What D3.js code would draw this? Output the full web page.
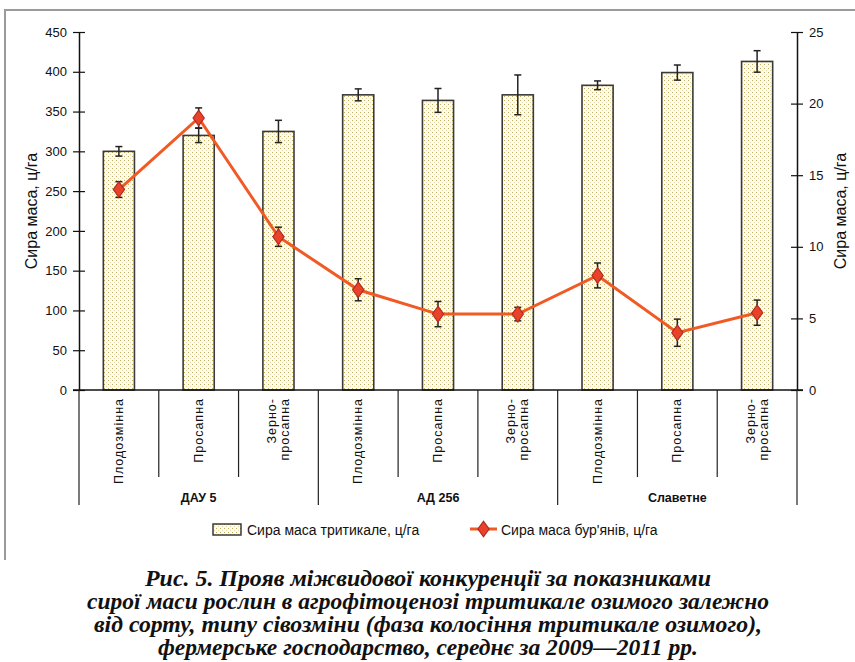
<!DOCTYPE html>
<html>
<head>
<meta charset="utf-8">
<script src="https://cdn.jsdelivr.net/npm/d3@7"></script>
<style>
  body { margin: 0; background: #fff; }
  svg { display: block; }
</style>
</head>
<body>
<div id="chart"></div>
<script>
// Дані
const groups = ['ДАУ 5', 'АД 256', 'Славетне'];
const rotations = [['Плодозмінна'], ['Просапна'], ['Зерно-', 'просапна']];
const triticale = [300, 320, 325, 371, 364, 371, 383, 399, 413];
const triticaleErr = [6, 9, 14, 7.5, 15, 25, 5.5, 9.5, 13.5];
const weeds = [14.0, 19.0, 10.7, 7.0, 5.3, 5.3, 8.0, 4.0, 5.4];
const weedsErr = [0.55, 0.7, 0.67, 0.77, 0.88, 0.47, 0.87, 0.95, 0.88];
const leftTicks = [0, 50, 100, 150, 200, 250, 300, 350, 400, 450];
const rightTicks = [0, 5, 10, 15, 20, 25];
const captionLines = [
  'Рис. 5. Прояв міжвидової конкуренції за показниками',
  'сирої маси рослин в агрофітоценозі тритикале озимого залежно',
  'від сорту, типу сівозміни (фаза колосіння тритикале озимого),',
  'фермерське господарство, середнє за 2009—2011 рр.'
];

const W = 855, H = 662;
const plot = { left: 79, right: 797, top: 32, bottom: 390 };

const svg = d3.select('#chart').append('svg')
  .attr('width', W)
  .attr('height', H);

// візерунок для стовпчиків
const defs = svg.append('defs');
const pat = defs.append('pattern')
  .attr('id', 'dots')
  .attr('patternUnits', 'userSpaceOnUse')
  .attr('width', 4)
  .attr('height', 4);
pat.append('rect').attr('width', 4).attr('height', 4).attr('fill', '#fdfbf2');
pat.append('rect').attr('x', 0).attr('y', 0).attr('width', 1).attr('height', 1).attr('fill', '#c2ad5c');
pat.append('rect').attr('x', 2).attr('y', 2).attr('width', 1).attr('height', 1).attr('fill', '#e3d9a6');

// рамка (верх і лівий край)
svg.append('path')
  .attr('d', 'M5,560V10H860')
  .attr('fill', 'none')
  .attr('stroke', '#9a9a9a')
  .attr('stroke-width', 2);

const cats = d3.range(triticale.length);
const x = d3.scaleBand()
  .domain(cats)
  .range([plot.left, plot.right]);

const yL = d3.scaleLinear().domain([0, 450]).range([plot.bottom, plot.top]);
const yR = d3.scaleLinear().domain([0, 25]).range([plot.bottom, plot.top]);

const barW = x.bandwidth() * 0.39;
const cx = i => x(i) + x.bandwidth() / 2;

// стовпчики
svg.append('g').selectAll('rect')
  .data(triticale)
  .enter()
  .append('rect')
  .attr('x', (d, i) => cx(i) - barW / 2)
  .attr('y', d => yL(d))
  .attr('width', barW)
  .attr('height', d => yL(0) - yL(d))
  .attr('fill', 'url(#dots)')
  .attr('stroke', '#3a3a3a')
  .attr('stroke-width', 1.6);

// похибки
function errorBars(values, errs, scale) {
  const g = svg.append('g').attr('stroke', '#222').attr('stroke-width', 1.5);
  values.forEach((v, i) => {
    const x0 = cx(i);
    const y1 = scale(v + errs[i]), y2 = scale(v - errs[i]);
    g.append('line').attr('x1', x0).attr('x2', x0).attr('y1', y1).attr('y2', y2);
    g.append('line').attr('x1', x0 - 3.5).attr('x2', x0 + 3.5).attr('y1', y1).attr('y2', y1);
    g.append('line').attr('x1', x0 - 3.5).attr('x2', x0 + 3.5).attr('y1', y2).attr('y2', y2);
  });
}
errorBars(triticale, triticaleErr, yL);

// лінія бур'янів
const line = d3.line()
  .x((d, i) => cx(i))
  .y(d => yR(d));

svg.append('path')
  .datum(weeds)
  .attr('d', line)
  .attr('fill', 'none')
  .attr('stroke', '#f15a24')
  .attr('stroke-width', 3);

errorBars(weeds, weedsErr, yR);

const diamond = d3.symbol().type(d3.symbolDiamond).size(70);
svg.append('g').selectAll('path')
  .data(weeds)
  .enter()
  .append('path')
  .attr('d', diamond)
  .attr('transform', (d, i) => `translate(${cx(i)},${yR(d)}) scale(1.25,1)`)
  .attr('fill', '#e8432a')
  .attr('stroke', '#b52a1f')
  .attr('stroke-width', 1);

// осі
const tickFont = 'Liberation Sans, Arial, sans-serif';
const axL = svg.append('g')
  .attr('transform', `translate(${plot.left},0)`)
  .call(d3.axisLeft(yL).tickValues(leftTicks).tickSize(0).tickPadding(12));
axL.select('.domain').attr('stroke', '#111').attr('stroke-width', 1.5);
axL.selectAll('.tick text').attr('font-family', tickFont).attr('font-size', 13).attr('fill', '#111');
axL.selectAll('.tick').append('line')
  .attr('x1', -6).attr('x2', 6).attr('stroke', '#111').attr('stroke-width', 1.2);

const axR = svg.append('g')
  .attr('transform', `translate(${plot.right},0)`)
  .call(d3.axisRight(yR).tickValues(rightTicks).tickSize(0).tickPadding(12));
axR.select('.domain').attr('stroke', '#111').attr('stroke-width', 1.5);
axR.selectAll('.tick text').attr('font-family', tickFont).attr('font-size', 13).attr('fill', '#111');
axR.selectAll('.tick').append('line')
  .attr('x1', -6).attr('x2', 6).attr('stroke', '#111').attr('stroke-width', 1.2);

// вісь X
svg.append('line')
  .attr('x1', plot.left - 6).attr('x2', plot.right + 6)
  .attr('y1', plot.bottom).attr('y2', plot.bottom)
  .attr('stroke', '#111').attr('stroke-width', 1.5);

const sep = svg.append('g').attr('stroke', '#222').attr('stroke-width', 1.2);
d3.range(triticale.length + 1).forEach(k => {
  const xx = k < triticale.length ? x(k) : plot.right;
  const isGroup = k % 3 === 0;
  sep.append('line')
    .attr('x1', xx).attr('x2', xx)
    .attr('y1', plot.bottom).attr('y2', isGroup ? 505 : 477);
});

// підписи категорій
cats.forEach(i => {
  const lines = rotations[i % 3];
  const t = svg.append('text')
    .attr('transform', `translate(${cx(i)},398) rotate(-90)`)
    .attr('text-anchor', 'end')
    .attr('font-family', tickFont)
    .attr('font-size', 12.5)
    .attr('letter-spacing', 1)
    .attr('fill', '#111');
  lines.forEach((s, j) => {
    t.append('tspan')
      .attr('x', 0)
      .attr('y', (j - (lines.length - 1) / 2) * 13 + 4)
      .text(s);
  });
});

groups.forEach((g, k) => {
  svg.append('text')
    .attr('x', (x(k * 3) + (k < 2 ? x(k * 3 + 3) : plot.right)) / 2)
    .attr('y', 502)
    .attr('text-anchor', 'middle')
    .attr('font-family', tickFont)
    .attr('font-weight', 'bold')
    .attr('font-size', 12.5)
    .attr('fill', '#111')
    .text(g);
});

// назви осей
svg.append('text')
  .attr('transform', `translate(37,${(plot.top + plot.bottom) / 2}) rotate(-90)`)
  .attr('text-anchor', 'middle')
  .attr('font-family', tickFont)
  .attr('font-size', 16)
  .attr('fill', '#111')
  .text('Сира маса, ц/га');

svg.append('text')
  .attr('transform', `translate(846,${(plot.top + plot.bottom) / 2}) rotate(-90)`)
  .attr('text-anchor', 'middle')
  .attr('font-family', tickFont)
  .attr('font-size', 16)
  .attr('fill', '#111')
  .text('Сира маса, ц/га');

// легенда
const leg = svg.append('g');
leg.append('rect')
  .attr('x', 213).attr('y', 524).attr('width', 28).attr('height', 11)
  .attr('fill', 'url(#dots)').attr('stroke', '#3a3a3a').attr('stroke-width', 1.5);
leg.append('text')
  .attr('x', 247).attr('y', 535)
  .attr('font-family', tickFont).attr('font-size', 14).attr('fill', '#111')
  .text('Сира маса тритикале, ц/га');
leg.append('line')
  .attr('x1', 470).attr('x2', 497).attr('y1', 529).attr('y2', 529)
  .attr('stroke', '#f15a24').attr('stroke-width', 3);
leg.append('path')
  .attr('d', diamond)
  .attr('transform', 'translate(483.5,529) scale(1.25,1)')
  .attr('fill', '#e8432a').attr('stroke', '#b52a1f').attr('stroke-width', 1);
leg.append('text')
  .attr('x', 501).attr('y', 535)
  .attr('font-family', tickFont).attr('font-size', 14).attr('fill', '#111')
  .text("Сира маса бур'янів, ц/га");

// підпис рисунка
const capWidths = [566, 682, 668, 540];
captionLines.forEach((s, i) => {
  svg.append('text')
    .attr('x', 428)
    .attr('y', 586 + i * 23)
    .attr('text-anchor', 'middle')
    .attr('font-family', 'Liberation Serif, DejaVu Serif, serif')
    .attr('font-style', 'italic')
    .attr('font-weight', 'bold')
    .attr('font-size', 23)
    .attr('textLength', capWidths[i])
    .attr('lengthAdjust', 'spacingAndGlyphs')
    .attr('fill', '#111')
    .text(s);
});
</script>
</body>
</html>
